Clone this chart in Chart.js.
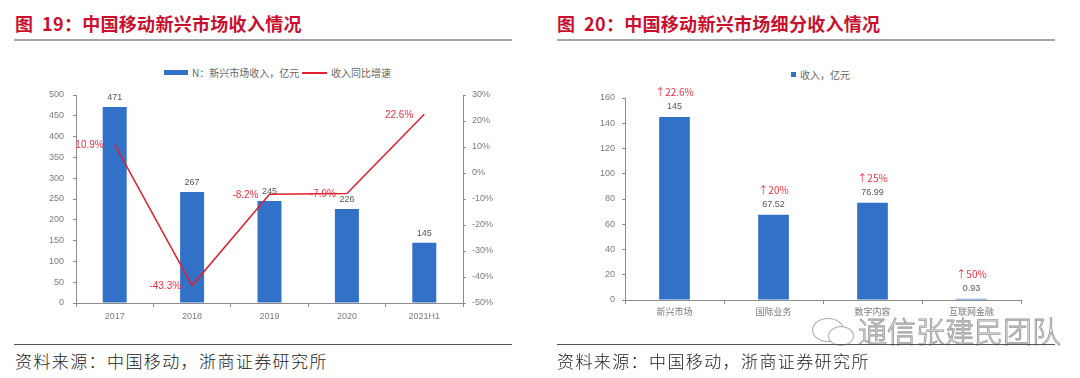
<!DOCTYPE html>
<html>
<head>
<meta charset="utf-8">
<script src="https://cdn.jsdelivr.net/npm/chart.js@4.4.1/dist/chart.umd.min.js"></script>
<style>
  body { margin: 0; width: 1080px; height: 378px; background: #fff; position: relative; overflow: hidden;
         font-family: "Noto Sans CJK SC", "Noto Sans", sans-serif; }
  .title { position: absolute; top: 10px; font-size: 18px; font-weight: bold; color: #C8102E; letter-spacing: 0.3px; }
  .rule { position: absolute; height: 2px; background: #A6A6A6; }
  .rule2 { position: absolute; height: 1px; background: #555; }
  .src { position: absolute; top: 348px; font-size: 17px; color: #222; letter-spacing: 1.4px; font-weight: 300; }
  .box { position: absolute; }
  .leg { position: absolute; font-size: 10px; color: #666; white-space: nowrap; }
  .wm { position: absolute; left: 858px; top: 309px; font-size: 29px; color: #fff;
        -webkit-text-stroke: 0.9px #9a9a9a; font-weight: 300; }
  .bub { position: absolute; border: 1px solid #aaa; border-radius: 50%; background: #fff; }
</style>
</head>
<body>
<div class="title" style="left:15px">图&nbsp;&nbsp;19：中国移动新兴市场收入情况</div>
<div class="title" style="left:557px">图&nbsp;&nbsp;20：中国移动新兴市场细分收入情况</div>
<div class="rule" style="left:14px; top:39px; width:498px"></div>
<div class="rule" style="left:557px; top:39px; width:498px"></div>

<!-- legends -->
<div class="box" style="left:164px; top:70px; width:24px; height:5px; background:#3271C8"></div>
<div class="leg" style="left:192px; top:65px">N：新兴市场收入，亿元</div>
<div class="box" style="left:302px; top:72px; width:25px; height:2px; background:#E0202E"></div>
<div class="leg" style="left:331px; top:65px">收入同比增速</div>
<div class="box" style="left:791px; top:72px; width:5px; height:5px; background:#3271C8"></div>
<div class="leg" style="left:800px; top:67px">收入，亿元</div>

<div style="position:absolute; left:0; top:80px; width:540px; height:250px"><canvas id="c1"></canvas></div>
<div style="position:absolute; left:540px; top:80px; width:540px; height:250px"><canvas id="c2"></canvas></div>

<div class="bub" style="left:812px; top:318px; width:30px; height:22px"></div>
<div class="bub" style="left:828px; top:326px; width:24px; height:18px"></div>
<div class="wm">通信张建民团队</div>

<div class="rule2" style="left:14px; top:344px; width:498px"></div>
<div class="rule2" style="left:557px; top:344px; width:498px"></div>
<div class="src" style="left:15px">资料来源：中国移动，浙商证券研究所</div>
<div class="src" style="left:557px">资料来源：中国移动，浙商证券研究所</div>

<script>
// chart 19 data
const years = ['2017', '2018', '2019', '2020', '2021H1'];
const revenue = [471, 267, 245, 226, 145];
const growth = [10.9, -43.3, -8.2, -7.9, 22.6];
const growthText = ['10.9%', '-43.3%', '-8.2%', '-7.9%', '22.6%'];

// chart 20 data
const segments = ['新兴市场', '国际业务', '数字内容', '互联网金融'];
const segRevenue = [145, 67.52, 76.99, 0.93];
const segRevenueText = ['145', '67.52', '76.99', '0.93'];
const segGrowthText = ['↑22.6%', '↑20%', '↑25%', '↑50%'];

const BLUE = '#3271C8';
const RED = '#E0202E';
const LABEL_RED = '#F03040';
const GREY = '#7A7A7A';
const AXIS = '#8C8C8C';
const tickFont = { family: 'Liberation Sans, Noto Sans CJK SC', size: 9 };

function axisGrid(len) {
    return { display: true, drawOnChartArea: false, drawTicks: true, tickLength: len, color: AXIS };
}

// value labels on bars and growth labels on the line
const labels1 = {
    id: 'labels1',
    afterDatasetsDraw(chart) {
        const ctx = chart.ctx;
        ctx.save();
        ctx.font = '9px "Liberation Sans", "Noto Sans CJK SC"';
        ctx.textAlign = 'center';
        ctx.textBaseline = 'bottom';
        ctx.fillStyle = '#555';
        chart.getDatasetMeta(0).data.forEach((bar, i) => {
            ctx.fillText(String(revenue[i]), bar.x, bar.y - 5);
        });
        ctx.font = '10px "Liberation Sans", "Noto Sans CJK SC"';
        ctx.textAlign = 'right';
        ctx.textBaseline = 'middle';
        ctx.fillStyle = LABEL_RED;
        chart.getDatasetMeta(1).data.forEach((pt, i) => {
            ctx.fillText(growthText[i], pt.x - 11, pt.y + 1);
        });
        ctx.restore();
    }
};

const labels2 = {
    id: 'labels2',
    afterDatasetsDraw(chart) {
        const ctx = chart.ctx;
        ctx.save();
        ctx.textAlign = 'center';
        ctx.textBaseline = 'bottom';
        chart.getDatasetMeta(0).data.forEach((bar, i) => {
            ctx.font = '9px "Liberation Sans", "Noto Sans CJK SC"';
            ctx.fillStyle = '#555';
            ctx.fillText(segRevenueText[i], bar.x, bar.y - 6);
            ctx.fillStyle = LABEL_RED;
            ctx.font = '10px "Noto Sans CJK SC", "Liberation Sans"';
            ctx.fillText(segGrowthText[i], bar.x, bar.y - 20);
        });
        ctx.restore();
    }
};

new Chart(document.getElementById('c1'), {
    type: 'bar',
    data: {
        labels: years,
        datasets: [
            {
                label: 'N：新兴市场收入，亿元',
                data: revenue,
                backgroundColor: BLUE,
                categoryPercentage: 1,
                barPercentage: 0.31,
                yAxisID: 'y',
                order: 2
            },
            {
                type: 'line',
                label: '收入同比增速',
                data: growth,
                borderColor: RED,
                borderWidth: 1.5,
                pointRadius: 0,
                tension: 0,
                yAxisID: 'y1',
                order: 1
            }
        ]
    },
    options: {
        responsive: true,
        maintainAspectRatio: false,
        animation: false,
        layout: { padding: { top: 15, left: 0, right: 0, bottom: 0 } },
        plugins: { legend: { display: false }, tooltip: { enabled: false } },
        scales: {
            x: {
                grid: axisGrid(4),
                border: { color: AXIS },
                ticks: { color: GREY, font: tickFont, padding: 4 },
                afterFit: s => { s.height = 27; }
            },
            y: {
                position: 'left',
                min: 0, max: 500,
                grid: axisGrid(3),
                border: { color: AXIS },
                ticks: { stepSize: 50, color: GREY, font: tickFont, padding: 9 },
                afterFit: s => { s.width = 76; }
            },
            y1: {
                position: 'right',
                min: -50, max: 30,
                grid: axisGrid(3),
                border: { color: AXIS },
                ticks: { stepSize: 10, color: GREY, font: tickFont, padding: 6, callback: v => v + '%' },
                afterFit: s => { s.width = 77; }
            }
        }
    },
    plugins: [labels1]
});

new Chart(document.getElementById('c2'), {
    type: 'bar',
    data: {
        labels: segments,
        datasets: [{
            label: '收入，亿元',
            data: segRevenue,
            backgroundColor: BLUE,
            categoryPercentage: 1,
            barPercentage: 0.31
        }]
    },
    options: {
        responsive: true,
        maintainAspectRatio: false,
        animation: false,
        layout: { padding: { top: 18, left: 0, right: 59, bottom: 0 } },
        plugins: { legend: { display: false }, tooltip: { enabled: false } },
        scales: {
            x: {
                grid: axisGrid(4),
                border: { color: AXIS },
                ticks: { color: GREY, font: tickFont, padding: 3 },
                afterFit: s => { s.height = 30; }
            },
            y: {
                min: 0, max: 160,
                grid: axisGrid(3),
                border: { color: AXIS },
                ticks: { stepSize: 20, color: GREY, font: tickFont, padding: 7 },
                afterFit: s => { s.width = 85; }
            }
        }
    },
    plugins: [labels2]
});
</script>
</body>
</html>
